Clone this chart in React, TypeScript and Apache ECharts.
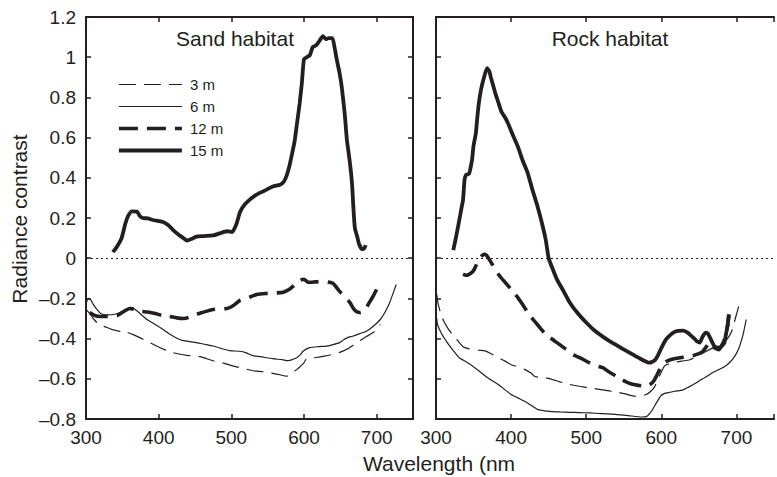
import React, { useEffect, useRef } from "react";
import * as echarts from "echarts";

const INK = "#231f20";
const FONT = "'Liberation Sans', Arial, Helvetica, sans-serif";

const depthNames = ["3 m", "6 m", "12 m", "15 m"];
const panelTitles = ["Sand habitat", "Rock habitat"];
const yLabel = "Radiance contrast";
const xLabel = "Wavelength (nm";

const sand3m: number[][] = [[300,-0.255],[305,-0.275],[310,-0.3],[315,-0.32],[322,-0.335],[329,-0.345],[336,-0.355],[342,-0.36],[349,-0.365],[356,-0.368],[365,-0.38],[374,-0.395],[385,-0.415],[397,-0.437],[408,-0.455],[420,-0.47],[430,-0.478],[439,-0.483],[448,-0.487],[457,-0.49],[466,-0.5],[475,-0.51],[489,-0.522],[503,-0.537],[516,-0.548],[530,-0.56],[544,-0.565],[557,-0.573],[567,-0.58],[576,-0.587],[582,-0.578],[587,-0.562],[593,-0.545],[599,-0.525],[603,-0.503],[610,-0.497],[617,-0.494],[628,-0.487],[640,-0.478],[650,-0.467],[659,-0.453],[668,-0.432],[677,-0.41],[686,-0.39],[695,-0.37],[700,-0.355],[705,-0.33]];
const sand6m: number[][] = [[300,-0.23],[303,-0.2],[306,-0.205],[310,-0.23],[315,-0.255],[320,-0.275],[324,-0.28],[330,-0.282],[338,-0.28],[347,-0.27],[355,-0.255],[361,-0.245],[366,-0.25],[372,-0.268],[384,-0.305],[393,-0.325],[402,-0.345],[410,-0.365],[416,-0.38],[425,-0.398],[434,-0.41],[443,-0.415],[452,-0.42],[463,-0.428],[475,-0.437],[487,-0.45],[498,-0.46],[512,-0.463],[520,-0.47],[530,-0.485],[540,-0.49],[557,-0.5],[570,-0.505],[578,-0.51],[585,-0.503],[590,-0.495],[595,-0.48],[599,-0.462],[608,-0.445],[620,-0.44],[631,-0.437],[640,-0.43],[649,-0.42],[655,-0.405],[660,-0.395],[668,-0.387],[677,-0.375],[686,-0.363],[695,-0.34],[705,-0.305],[712,-0.265],[718,-0.22],[723,-0.17],[727,-0.13]];
const sand12m: number[][] = [[305,-0.27],[312,-0.285],[320,-0.29],[330,-0.29],[343,-0.285],[352,-0.265],[360,-0.25],[367,-0.255],[374,-0.263],[385,-0.268],[395,-0.275],[405,-0.285],[415,-0.29],[425,-0.297],[434,-0.3],[441,-0.295],[447,-0.285],[460,-0.27],[475,-0.255],[494,-0.25],[503,-0.235],[512,-0.21],[521,-0.2],[535,-0.18],[550,-0.175],[571,-0.17],[580,-0.155],[588,-0.13],[595,-0.11],[600,-0.105],[606,-0.12],[615,-0.118],[626,-0.115],[635,-0.12],[640,-0.125],[649,-0.165],[656,-0.19],[663,-0.22],[668,-0.25],[672,-0.265],[677,-0.27],[681,-0.265],[686,-0.245],[690,-0.22],[695,-0.19],[700,-0.155]];
const sand15m: number[][] = [[337,0.03],[343,0.06],[349,0.1],[354,0.17],[358,0.21],[363,0.233],[370,0.232],[374,0.21],[378,0.2],[385,0.198],[392,0.19],[400,0.185],[406,0.18],[413,0.165],[420,0.14],[428,0.115],[434,0.1],[439,0.088],[445,0.095],[452,0.107],[462,0.11],[475,0.113],[485,0.125],[494,0.134],[501,0.13],[507,0.17],[512,0.23],[518,0.265],[525,0.29],[532,0.31],[539,0.325],[548,0.34],[557,0.357],[567,0.366],[572,0.38],[576,0.41],[580,0.46],[583,0.51],[587,0.58],[590,0.66],[594,0.77],[597,0.87],[600,0.99],[604,1.0],[608,1.01],[612,1.05],[617,1.06],[621,1.08],[626,1.105],[630,1.09],[634,1.095],[639,1.095],[642,1.05],[645,0.99],[649,0.92],[652,0.85],[656,0.72],[659,0.59],[663,0.48],[666,0.375],[668,0.25],[670,0.15],[673,0.11],[676,0.068],[680,0.045],[683,0.05],[685,0.065]];

const rock3m: number[][] = [[301,-0.18],[303,-0.23],[306,-0.27],[310,-0.31],[316,-0.35],[323,-0.385],[330,-0.415],[336,-0.44],[343,-0.45],[349,-0.455],[357,-0.458],[366,-0.462],[375,-0.478],[383,-0.495],[392,-0.512],[400,-0.53],[409,-0.54],[418,-0.553],[426,-0.57],[431,-0.587],[442,-0.595],[452,-0.6],[465,-0.615],[478,-0.628],[491,-0.637],[504,-0.645],[522,-0.655],[539,-0.665],[552,-0.675],[565,-0.686],[573,-0.685],[580,-0.678],[586,-0.662],[591,-0.64],[595,-0.605],[599,-0.575],[604,-0.537],[610,-0.525],[616,-0.52],[627,-0.512],[638,-0.505],[651,-0.48],[664,-0.455],[677,-0.43],[684,-0.415],[690,-0.39],[694,-0.36],[697,-0.32],[700,-0.28],[703,-0.24]];
const rock6m: number[][] = [[301,-0.3],[302,-0.33],[308,-0.38],[315,-0.42],[323,-0.46],[331,-0.495],[340,-0.515],[349,-0.537],[357,-0.56],[366,-0.587],[375,-0.61],[383,-0.628],[392,-0.655],[400,-0.678],[409,-0.695],[418,-0.712],[426,-0.73],[435,-0.752],[443,-0.758],[452,-0.762],[465,-0.765],[478,-0.767],[491,-0.768],[504,-0.77],[520,-0.773],[539,-0.777],[556,-0.783],[574,-0.79],[580,-0.788],[584,-0.775],[588,-0.755],[591,-0.735],[595,-0.71],[599,-0.686],[603,-0.675],[608,-0.67],[618,-0.662],[629,-0.655],[642,-0.63],[655,-0.6],[662,-0.585],[668,-0.57],[676,-0.555],[685,-0.537],[692,-0.515],[698,-0.486],[703,-0.45],[707,-0.405],[710,-0.36],[713,-0.305]];
const rock12m: number[][] = [[336,-0.08],[340,-0.085],[344,-0.08],[348,-0.07],[351,-0.055],[354,-0.03],[357,-0.005],[361,0.012],[364,0.02],[367,0.015],[370,0],[374,-0.025],[379,-0.055],[385,-0.09],[392,-0.12],[400,-0.155],[409,-0.196],[417,-0.24],[426,-0.29],[435,-0.33],[444,-0.37],[452,-0.395],[461,-0.42],[472,-0.45],[483,-0.48],[494,-0.5],[504,-0.52],[513,-0.535],[522,-0.545],[530,-0.565],[539,-0.585],[548,-0.605],[556,-0.62],[565,-0.63],[574,-0.635],[584,-0.63],[589,-0.615],[593,-0.59],[597,-0.56],[601,-0.53],[606,-0.515],[612,-0.505],[625,-0.495],[635,-0.49],[642,-0.485],[650,-0.475],[655,-0.465],[660,-0.44],[664,-0.42],[669,-0.44],[673,-0.45],[677,-0.455],[681,-0.43],[684,-0.405],[688,-0.34],[690,-0.28]];
const rock15m: number[][] = [[323,0.04],[326,0.093],[329,0.15],[331,0.19],[334,0.25],[336,0.29],[338,0.39],[340,0.415],[344,0.42],[346,0.45],[348,0.49],[350,0.56],[353,0.62],[355,0.7],[357,0.77],[360,0.84],[364,0.9],[368,0.945],[371,0.93],[373,0.9],[376,0.86],[379,0.82],[383,0.775],[387,0.73],[392,0.7],[396,0.67],[402,0.615],[409,0.555],[415,0.49],[422,0.425],[428,0.345],[435,0.26],[441,0.175],[446,0.093],[450,0],[455,-0.05],[461,-0.105],[470,-0.165],[478,-0.22],[489,-0.275],[500,-0.32],[511,-0.36],[522,-0.39],[530,-0.41],[539,-0.43],[548,-0.45],[560,-0.475],[572,-0.5],[580,-0.515],[584,-0.52],[588,-0.515],[592,-0.505],[596,-0.48],[599,-0.455],[603,-0.425],[606,-0.405],[611,-0.385],[616,-0.37],[622,-0.362],[629,-0.36],[634,-0.368],[638,-0.38],[644,-0.4],[648,-0.415],[651,-0.42],[655,-0.39],[659,-0.37],[662,-0.375],[666,-0.405],[671,-0.44],[677,-0.445],[681,-0.435],[684,-0.42],[686,-0.38],[688,-0.34],[690,-0.28]];

const sandData = [sand3m, sand6m, sand12m, sand15m];
const rockData = [rock3m, rock6m, rock12m, rock15m];

const depthStyles = [
  { width: 1.2, type: [17, 8] as any },
  { width: 1.2, type: "solid" as any },
  { width: 3.6, type: [19, 9] as any },
  { width: 3.8, type: "solid" as any },
];

const X_MIN = 300, X_MAX = 750, X_INT = 100;
const Y_MIN = -0.8, Y_MAX = 1.2, Y_INT = 0.2;

export default function App() {
  const ref = useRef<HTMLDivElement>(null);
  useEffect(() => {
    if (!ref.current) return;
    const chart = echarts.init(ref.current, null, { renderer: "svg" });
    const grids = [
      { left: 86, top: 17, width: 327, height: 402 },
      { left: 436, top: 17, width: 347, height: 402 },
    ];
    const axisLine = { show: true, onZero: false, lineStyle: { color: INK, width: 2 } };
    const axisTick = { show: true, inside: true, length: 5, lineStyle: { color: INK, width: 1.5 } };
    const mkX = (gi: number, pos: string, labels: boolean) => ({
      type: "value", gridIndex: gi, position: pos, min: X_MIN, max: X_MAX, interval: X_INT,
      axisLine, axisTick, splitLine: { show: false },
      axisLabel: {
        show: labels, margin: 9, color: INK, fontFamily: FONT, fontSize: 19,
        formatter: (v: number) => (v >= X_MAX ? "" : String(v)),
      },
    });
    const mkY = (gi: number, pos: string, labels: boolean) => ({
      type: "value", gridIndex: gi, position: pos, min: Y_MIN, max: Y_MAX, interval: Y_INT,
      axisLine, axisTick, splitLine: { show: false },
      axisLabel: {
        show: labels, margin: 10, color: INK, fontFamily: FONT, fontSize: 19,
        formatter: (v: number) => {
          const r = Math.round(v * 10) / 10;
          return String(r).replace("-", "\u2013");
        },
      },
    });
    const zeroLine = {
      silent: true, symbol: ["none", "none"], label: { show: false },
      lineStyle: { type: [2, 3], width: 1, color: INK },
      data: [{ yAxis: 0 }],
    };
    const series: any[] = [];
    [sandData, rockData].forEach((panel, pi) => {
      panel.forEach((d, di) => {
        series.push({
          type: "line", name: depthNames[di], data: d,
          xAxisIndex: pi === 0 ? 0 : 2, yAxisIndex: pi === 0 ? 0 : 2,
          showSymbol: false, symbol: "none", smooth: 0.2,
          lineStyle: { color: INK, width: depthStyles[di].width, type: depthStyles[di].type, cap: "butt" },
          itemStyle: { color: INK },
          markLine: di === 0 ? zeroLine : undefined,
        });
      });
    });
    chart.setOption({
      animation: false,
      backgroundColor: "#ffffff",
      grid: grids,
      xAxis: [mkX(0, "bottom", true), mkX(0, "top", false), mkX(1, "bottom", true), mkX(1, "top", false)],
      yAxis: [mkY(0, "left", true), mkY(0, "right", false), mkY(1, "left", false)],
      legend: {
        orient: "vertical", left: 112, top: 72, itemWidth: 63, itemHeight: 14, itemGap: 7,
        data: depthNames, selectedMode: false,
        lineStyle: { width: "inherit" },
        itemStyle: { color: "transparent", borderColor: "transparent", borderWidth: 0, opacity: 0 },
        textStyle: { color: INK, fontFamily: FONT, fontSize: 15, padding: [0, 0, 0, 3] },
      },
      graphic: [
        { type: "text", x: 235, y: 38, style: { text: panelTitles[0], align: "center", verticalAlign: "middle", font: `21px ${FONT}`, fill: INK } },
        { type: "text", x: 610, y: 38, style: { text: panelTitles[1], align: "center", verticalAlign: "middle", font: `21px ${FONT}`, fill: INK } },
        { type: "text", x: 439, y: 463, style: { text: xLabel, align: "center", verticalAlign: "middle", font: `21px ${FONT}`, fill: INK } },
        { type: "text", x: 19, y: 219, rotation: Math.PI / 2, style: { text: yLabel, align: "center", verticalAlign: "middle", font: `21px ${FONT}`, fill: INK } },
      ],
      series,
    });
    return () => chart.dispose();
  }, []);
  return <div ref={ref} style={{ width: 777, height: 477, position: "absolute", left: 0, top: 0 }} />;
}
